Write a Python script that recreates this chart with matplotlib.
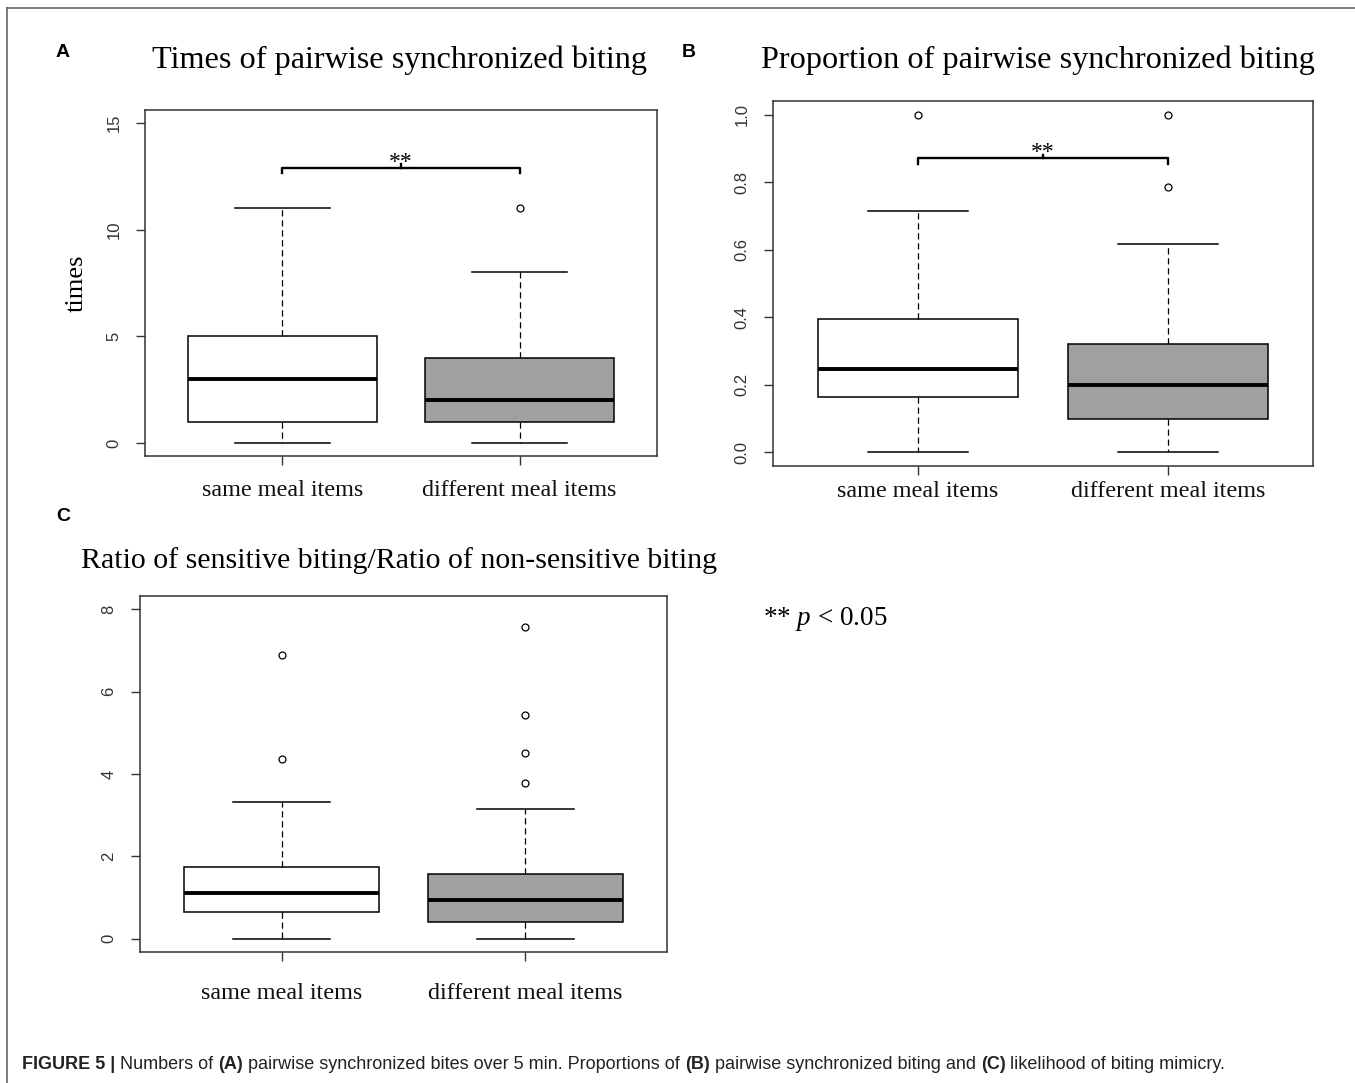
"""
Figure 5: biting synchrony box plots (three panels)
"""

import numpy as np
import matplotlib
matplotlib.use('Agg')
import matplotlib.pyplot as plt

W, H = 1355, 1083
serif = 'Liberation Serif'
sans = 'Liberation Sans'
narrow = ['Liberation Sans Narrow', 'Liberation Sans']

plt.rcParams['mathtext.fontset'] = 'custom'
plt.rcParams['mathtext.it'] = 'Liberation Serif:italic'
plt.rcParams['mathtext.rm'] = 'Liberation Serif'

groups = ['same meal items', 'different meal items']
box_colors = ['white', '#a0a0a0']

# panel A: times of pairwise synchronized biting
a_lo = [0, 0]
a_q1 = [1, 1]
a_med = [3, 2]
a_q3 = [5, 4]
a_hi = [11, 8]
a_fliers = [[], [11]]
a_ticks = [0, 5, 10, 15]

# panel B: proportion of pairwise synchronized biting
b_lo = [0, 0]
b_q1 = [0.164, 0.100]
b_med = [0.247, 0.200]
b_q3 = [0.394, 0.320]
b_hi = [0.714, 0.617]
b_fliers = [[1.0], [0.787, 1.0]]
b_ticks = [0.0, 0.2, 0.4, 0.6, 0.8, 1.0]

# panel C: ratio sensitive / non-sensitive
c_lo = [0, 0]
c_q1 = [0.64, 0.40]
c_med = [1.12, 0.94]
c_q3 = [1.75, 1.57]
c_hi = [3.33, 3.15]
c_fliers = [[4.37, 6.90], [3.79, 4.50, 5.42, 7.57]]
c_ticks = [0, 2, 4, 6, 8]

fig = plt.figure(figsize=(W / 100., H / 100.), dpi=100)


def px_rect(l, t, r, b):
    return [l / W, 1 - b / H, (r - l) / W, (b - t) / H]


def panel(rect, lo, q1, med, q3, hi, fliers, ticks, ylim, fmt, xpad):
    ax = fig.add_axes(px_rect(*rect))
    stats = []
    for i in range(2):
        stats.append(dict(whislo=lo[i], q1=q1[i], med=med[i], q3=q3[i],
                          whishi=hi[i], fliers=fliers[i]))
    bp = ax.bxp(stats, positions=[1, 2], widths=0.8, patch_artist=True,
                boxprops=dict(edgecolor='black', linewidth=1.1),
                medianprops=dict(color='black', linewidth=2.8, solid_capstyle='butt'),
                whiskerprops=dict(color='black', linewidth=0.9, linestyle=(0, (5, 3))),
                capprops=dict(color='black', linewidth=1.1),
                flierprops=dict(marker='o', markerfacecolor='none', markeredgecolor='black',
                                markersize=5, markeredgewidth=0.9, linestyle='none'))
    for patch, c in zip(bp['boxes'], box_colors):
        patch.set_facecolor(c)
    ax.set_xlim(0.42, 2.58)
    ax.set_ylim(*ylim)
    ax.set_yticks(ticks)
    ax.set_yticklabels([fmt.format(t) for t in ticks])
    ax.set_xticks([1, 2])
    ax.set_xticklabels(groups, fontfamily=serif, fontsize=17.4, color='#111111')
    for lab in ax.get_yticklabels():
        lab.set_rotation(90)
        lab.set_va('center')
        lab.set_fontfamily(sans)
        lab.set_fontsize(12)
        lab.set_color('#333333')
    ax.tick_params(axis='y', direction='out', length=6.5, width=1, pad=10.5, color='#333333')
    ax.tick_params(axis='x', direction='out', length=6.5, width=1, pad=xpad, color='#333333')
    for s in ax.spines.values():
        s.set_color('#333333')
        s.set_linewidth(1.1)
    return ax


def bracket(ax, y, down, up):
    ax.plot([1, 1, 2, 2], [y - down, y, y, y - down], color='black', lw=1.7)
    ax.plot([1.5, 1.5], [y, y + up], color='black', lw=1.7)
    ax.text(1.5, y, '**', ha='center', va='baseline', fontfamily=serif, fontsize=17)


axA = panel((145, 110, 657, 456), a_lo, a_q1, a_med, a_q3, a_hi, a_fliers,
            a_ticks, (-0.6, 15.6), '{:d}', 11)
axA.set_ylabel('times', fontfamily=serif, fontsize=19)
axA.yaxis.set_label_coords(-0.112, 0.5)
bracket(axA, 12.9, 0.23, 0.16)

axB = panel((773, 101, 1313, 466), b_lo, b_q1, b_med, b_q3, b_hi, b_fliers,
            b_ticks, (-0.04, 1.04), '{:.1f}', 4)
bracket(axB, 0.870, 0.015, 0.011)

axC = panel((140, 596, 667, 952), c_lo, c_q1, c_med, c_q3, c_hi, c_fliers,
            c_ticks, (-0.32, 8.32), '{:d}', 15.5)

# titles and panel letters
fig.text(400 / W, 1 - 68 / H, 'Times of pairwise synchronized biting',
         ha='center', va='baseline', fontfamily=serif, fontsize=23.2)
fig.text(1038 / W, 1 - 68 / H, 'Proportion of pairwise synchronized biting',
         ha='center', va='baseline', fontfamily=serif, fontsize=23.2)
fig.text(399 / W, 1 - 568 / H, 'Ratio of sensitive biting/Ratio of non-sensitive biting',
         ha='center', va='baseline', fontfamily=serif, fontsize=21.5)
for letter, x, y in [('A', 56, 57), ('B', 682, 57), ('C', 56, 521)]:
    fig.text(x / W, 1 - y / H, letter, ha='left', va='baseline',
             fontfamily=sans, fontweight='bold', fontsize=14)

fig.text(763 / W, 1 - 625 / H, '** $p$ < 0.05', ha='left', va='baseline',
         fontfamily=serif, fontsize=19.5)

# frame lines (top and left)
fig.add_artist(plt.Line2D([7 / W, 1], [1 - 8 / H, 1 - 8 / H], color='#666666', lw=1.2))
fig.add_artist(plt.Line2D([7 / W, 7 / W], [0, 1 - 8 / H], color='#666666', lw=1.2))

# caption with bold parts
caption = [('FIGURE 5 |', True), ('Numbers of', False), ('(A)', True),
           ('pairwise synchronized bites over 5 min. Proportions of', False), ('(B)', True),
           ('pairwise synchronized biting and', False), ('(C)', True),
           ('likelihood of biting mimicry.', False)]
renderer = fig.canvas.get_renderer()
cap_fs = 13
t1 = fig.text(0, 0, 'a a', fontfamily=narrow, fontsize=cap_fs)
t2 = fig.text(0, 0, 'aa', fontfamily=narrow, fontsize=cap_fs)
space = t1.get_window_extent(renderer).width - t2.get_window_extent(renderer).width
t1.remove()
t2.remove()
x = 22.
for seg, bold in caption:
    t = fig.text(x / W, 1 - 1069 / H, seg, ha='left', va='baseline', fontfamily=narrow,
                 fontsize=cap_fs, fontweight='bold' if bold else 'normal', color='#222222')
    x += t.get_window_extent(renderer).width + space

plt.savefig('out.png', dpi=100)
